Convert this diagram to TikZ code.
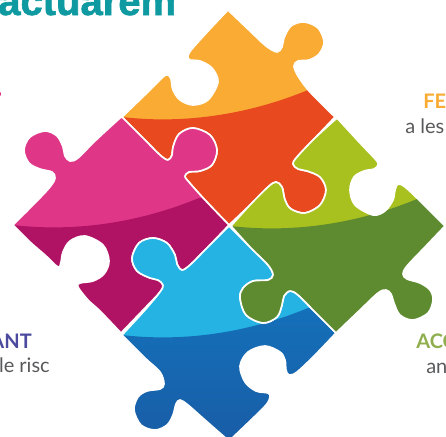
\documentclass[tikz,border=0pt]{standalone}
\usepackage{fontspec}
\setmainfont{Lato}
\newfontfamily\headfont[BoldFeatures={FakeBold=1.6}]{Liberation Sans}
\definecolor{cOrange}{HTML}{F9AB33}
\definecolor{cRed}{HTML}{E8491F}
\definecolor{cPink}{HTML}{DF3688}
\definecolor{cMagenta}{HTML}{B01264}
\definecolor{cSky}{HTML}{25B3E3}
\definecolor{cBlueA}{HTML}{1470B9}
\definecolor{cBlueB}{HTML}{1A58A2}
\definecolor{cLime}{HTML}{A9C11F}
\definecolor{cGreen}{HTML}{5E8B2F}
\definecolor{cTeal}{HTML}{0E9AA0}
\definecolor{cGrey}{HTML}{58595B}
\definecolor{cPurple}{HTML}{4B4A9E}
\definecolor{cOlive}{HTML}{8FAE4D}
\tikzset{
  edgeline/.style={draw=white,line width=1.25pt,line join=round},
  hugetext/.style={font=\headfont\bfseries\fontsize{30}{30}\selectfont,text=cTeal,anchor=base west,inner sep=0pt},
  headtext/.style={font=\bfseries\fontsize{15}{15}\selectfont,anchor=base west,inner sep=0pt},
  greytext/.style={font=\fontsize{15}{15}\selectfont,text=cGrey,anchor=base west,inner sep=0pt},
  sp/.style={smooth,tension=.55}
}
% dark lower band of a piece, written for the top piece
\newcommand{\bandpath}{(122,117) .. controls (190,125) and (255,112) .. (308,90) -- (360,90) -- (360,255) -- (100,255) -- (100,117) -- cycle}
\newcommand{\topshape}{plot[sp] coordinates {(122,117) (150,90) (163,77) (168,75) (171,79) (173,90) (180,100) (193,105) (208,100) (218,82) (212,68) (200,61) (190,60) (188,56) (192,49) (210,29) (228,10)}
 -- plot[sp] coordinates {(228,10) (250,31) (266,46) (277,52) (282,47) (284,38) (291,26) (304,22) (318,28) (324,42) (319,54) (309,60) (298,61) (294,66) (298,76) (310,92) (335,117)}
 -- plot[sp] coordinates {(335,117) (315,138) (297,157) (293,164) (298,169) (307,171) (320,177) (326,190) (320,205) (305,213) (291,209) (285,200) (282,187) (276,182) (268,187) (250,205) (229,225)}
 -- plot[sp] coordinates {(229,225) (205,200) (188,181) (185,176) (189,172) (200,171) (212,165) (217,150) (210,135) (193,128) (179,134) (173,147) (172,155) (168,160) (160,155) (145,140) (122,117)} -- cycle}
\newcommand{\leftshape}{plot[sp] coordinates {(13,225) (35,203) (50,187) (55,178) (52,172) (40,169) (29,163) (24,150) (30,137) (45,131) (57,136) (63,147) (65,156) (70,161) (78,158) (95,141) (120,118)}
 -- plot[sp] coordinates {(122,117) (145,140) (160,155) (168,160) (172,155) (173,147) (179,134) (193,128) (210,135) (217,150) (212,165) (200,171) (189,172) (185,176) (188,181) (205,200) (229,225)}
 -- plot[sp] coordinates {(229,225) (205,250) (190,265) (182,270) (177,264) (175,255) (167,243) (153,238) (139,243) (132,258) (137,271) (150,278) (158,280) (163,285) (160,292) (145,308) (121,333)}
 -- plot[sp] coordinates {(121,333) (100,311) (88,300) (78,287) (80,283) (93,281) (104,274) (109,261) (103,245) (85,236) (70,241) (63,252) (61,262) (58,267) (45,255) (30,242) (13,225)} -- cycle}
\newcommand{\bottomshape}{plot[sp] coordinates {(122,335) (145,310) (160,292) (163,285) (158,280) (150,278) (137,271) (132,258) (139,243) (153,238) (167,243) (175,255) (177,264) (182,270) (190,265) (205,250) (229,226)}
 -- plot[sp] coordinates {(229,226) (250,247) (268,265) (273,275) (268,280) (253,281) (243,288) (240,298) (246,315) (263,323) (277,317) (282,305) (284,296) (290,291) (298,295) (315,312) (336,333)}
 -- plot[sp] coordinates {(336,333) (315,355) (297,372) (289,375) (286,370) (285,360) (280,352) (265,346) (248,352) (240,366) (245,382) (256,391) (268,393) (270,397) (266,405) (250,421) (229,441)}
 -- plot[sp] coordinates {(229,441) (205,420) (188,405) (180,400) (176,404) (173,415) (167,425) (155,430) (141,425) (134,410) (138,397) (147,391) (160,389) (164,384) (160,372) (145,358) (122,335)} -- cycle}
\newcommand{\rightshape}{plot[sp] coordinates {(231,226) (250,205) (268,187) (276,182) (282,187) (285,200) (291,209) (305,213) (320,205) (326,190) (320,177) (307,171) (298,169) (293,164) (297,157) (315,138) (337,118)}
 -- plot[sp] coordinates {(337,118) (360,143) (376,160) (378,165) (374,169) (364,171) (354,177) (350,190) (355,205) (373,215) (385,211) (393,200) (395,190) (398,184) (405,187) (420,201) (445,226)}
 -- plot[sp] coordinates {(445,226) (425,247) (407,266) (403,274) (407,279) (420,283) (430,290) (433,300) (428,313) (413,320) (400,315) (394,303) (391,294) (386,290) (378,293) (360,310) (337,332)}
 -- plot[sp] coordinates {(336,333) (315,312) (298,295) (290,291) (284,296) (282,305) (277,317) (263,323) (246,315) (240,298) (243,288) (253,281) (268,280) (273,275) (268,265) (250,247) (231,226)} -- cycle}
\begin{document}
\begin{tikzpicture}[x=0.75pt,y=-0.75pt]
\useasboundingbox (0,0) rectangle (446,436);
\clip (0,0) rectangle (446,436);
% top piece
\fill[cOrange] \topshape;
\begin{scope}\clip \topshape; \fill[cRed] \bandpath; \end{scope}
\path[edgeline] \topshape;
% left piece
\fill[cPink] \leftshape;
\begin{scope}\clip \leftshape; \begin{scope}[shift={(-109,108)}]\fill[cMagenta] \bandpath;\end{scope}\end{scope}
\path[edgeline] \leftshape;
% bottom piece
\fill[cSky] \bottomshape;
\begin{scope}\clip \bottomshape; \begin{scope}[shift={(0,218)}]\shade[top color=cBlueA,bottom color=cBlueB] \bandpath;\end{scope}\end{scope}
\path[edgeline] \bottomshape;
% right piece
\fill[cLime] \rightshape;
\begin{scope}\clip \rightshape; \begin{scope}[shift={(109,109)}]\fill[cGreen] \bandpath;\end{scope}\end{scope}
\path[edgeline] \rightshape;
% texts
\node[hugetext] (title) at (-2,15) {actuarem};
\fill[cPink] (-1,94) circle (2.2);
\node[headtext,text=cOrange] (fe) at (423,108) {FE};
\node[greytext] (ales) at (405,133) {a les};
\node[headtext,text=cPurple,anchor=base east] (ant) at (32,348) {ANT};
\node[greytext,anchor=base east] (risc) at (50,372) {le risc};
\node[headtext,text=cOlive] (ac) at (416,348) {ACC};
\node[greytext] (an) at (426,373) {an};
\end{tikzpicture}
\end{document}
